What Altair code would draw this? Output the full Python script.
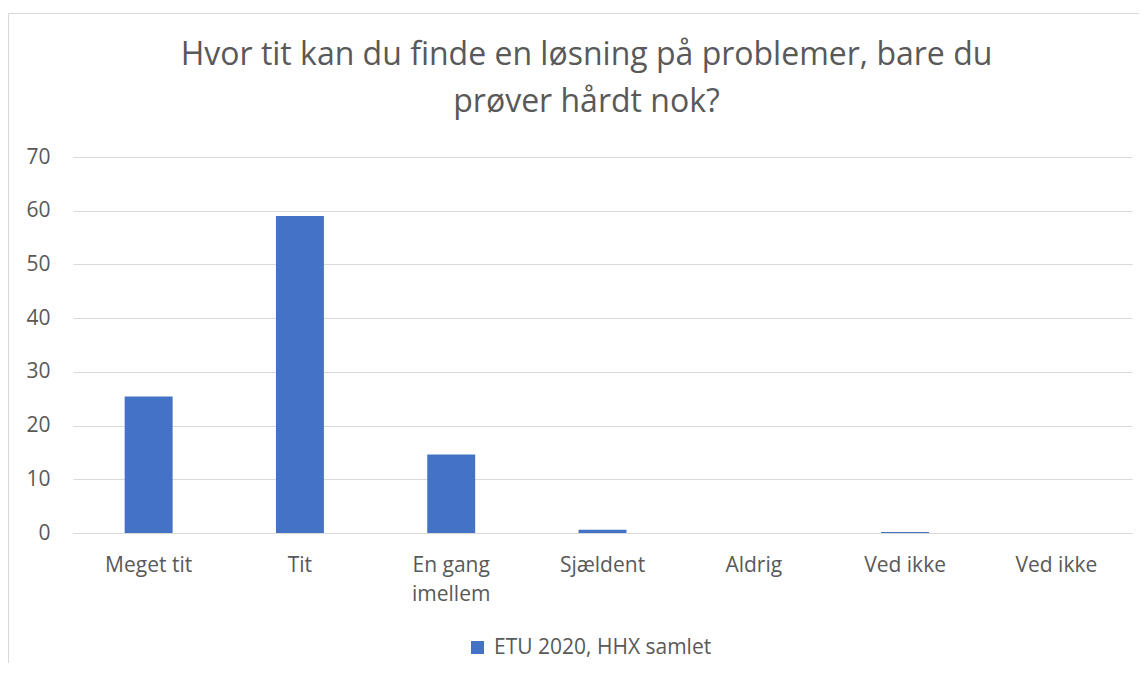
import json
import altair as alt
import pandas as pd

categories = ["Meget tit", "Tit", "En gang imellem", "Sjældent", "Aldrig", "Ved ikke", "Ved ikke"]
label_lines = [["Meget tit"], ["Tit"], ["En gang", "imellem"], ["Sjældent"], ["Aldrig"], ["Ved ikke"], ["Ved ikke"]]
values = [25.4, 59.0, 14.6, 0.6, 0.0, 0.2, 0.0]
series_name = "ETU 2020, HHX samlet"
y_ticks = [0, 10, 20, 30, 40, 50, 60, 70]
title_lines = ["Hvor tit kan du finde en løsning på problemer, bare du", "prøver hårdt nok?"]

df = pd.DataFrame({
    "idx": list(range(len(categories))),
    "category": categories,
    "value": values,
    "series": [series_name] * len(categories),
})

FONT = "Open Sans"
TXT = "#595959"
GRID = "#d9d9d9"

label_expr = json.dumps(label_lines, ensure_ascii=False) + "[datum.value]"

bars = alt.Chart(df).mark_bar().encode(
    x=alt.X(
        "idx:O",
        scale=alt.Scale(paddingInner=0.683, paddingOuter=0.3415),
        axis=alt.Axis(
            title=None, labelExpr=label_expr, labelAngle=0, ticks=False, tickSize=0,
            labelPadding=21, labelFontSize=21, labelFont=FONT, labelColor=TXT,
            labelLineHeight=29, domainColor=GRID, domainWidth=1, grid=False,
            labelBaseline="top",
        ),
    ),
    y=alt.Y(
        "value:Q",
        scale=alt.Scale(domain=[0, 70], nice=False),
        axis=alt.Axis(
            title=None, values=y_ticks, ticks=False, tickSize=0, domain=False,
            labelPadding=23, labelFontSize=21, labelFont=FONT, labelColor=TXT,
            gridColor=GRID, gridWidth=1,
        ),
    ),
    color=alt.Color(
        "series:N",
        scale=alt.Scale(range=["#4472C4"]),
        legend=alt.Legend(
            title=None, orient="none", legendX=394, legendY=480, symbolType="square",
            symbolSize=169, symbolStrokeWidth=0, labelFontSize=21, labelFont=FONT,
            labelColor=TXT, padding=0, labelOffset=6, labelLimit=0,
        ),
    ),
)

frame = alt.Data(values=[{}])
left_border = alt.Chart(frame).mark_rule(color=GRID, strokeWidth=1).encode(
    x=alt.value(-64.5), y=alt.value(-143.5), y2=alt.value(700)
)
top_border = alt.Chart(frame).mark_rule(color=GRID, strokeWidth=1).encode(
    x=alt.value(-64.5), x2=alt.value(1200), y=alt.value(-143.5)
)

chart = alt.layer(left_border, top_border, bars).properties(
    width=1059,
    height=376,
    title=alt.TitleParams(
        text=title_lines, font=FONT, fontSize=32, fontWeight="normal", color=TXT,
        anchor="middle", lineHeight=47, offset=-106, dx=-16,
    ),
    autosize=alt.AutoSizeParams(type="none"),
    padding={"left": 65, "top": 149, "right": 7, "bottom": 130},
).configure(background="white").configure_view(stroke=None)

chart.save("out.html", embed_options={"renderer": "svg", "actions": False})
